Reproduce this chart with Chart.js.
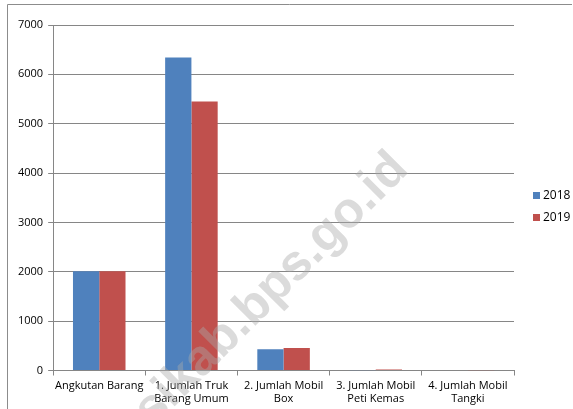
<!DOCTYPE html>
<html>
<head>
<meta charset="utf-8">
<script src="https://cdn.jsdelivr.net/npm/chart.js@4.4.0/dist/chart.umd.min.js"></script>
<style>
  html, body { margin: 0; padding: 0; background: #fff; }
  #wrap { width: 573px; height: 409px; position: relative; }
</style>
</head>
<body>
<div id="wrap"><canvas id="chart"></canvas></div>
<script>
// ---- data ----
var categories = [
    'Angkutan Barang',
    ['1. Jumlah Truk', 'Barang Umum'],
    ['2. Jumlah Mobil', 'Box'],
    ['3. Jumlah Mobil', 'Peti Kemas'],
    ['4. Jumlah Mobil', 'Tangki']
];
var values2018 = [2010, 6340, 430, 5, 0];
var values2019 = [2010, 5450, 455, 18, 4];
var seriesNames = ['2018', '2019'];
var seriesColors = ['#4F81BD', '#C0504D'];
var yTicks = [0, 1000, 2000, 3000, 4000, 5000, 6000, 7000];

var fontFamily = "'Open Sans', 'Liberation Sans', sans-serif";

// frame, legend on the right, watermark
var decorPlugin = {
    id: 'decor',
    beforeDraw: function(chart) {
        let ctx = chart.ctx;
        ctx.save();
        ctx.strokeStyle = '#8c8c8c';
        ctx.lineWidth = 1;
        ctx.beginPath();
        ctx.moveTo(7.5, 409);
        ctx.lineTo(7.5, 4.5);
        ctx.lineTo(572, 4.5);
        ctx.stroke();
        ctx.restore();
    },
    afterDraw: function(chart) {
        let ctx = chart.ctx;
        let area = chart.chartArea;
        ctx.save();
        // legend
        ctx.font = '12px ' + fontFamily;
        ctx.textBaseline = 'middle';
        chart.data.datasets.forEach((ds, i) => {
            let y = 196 + i * 22;
            ctx.fillStyle = ds.backgroundColor;
            ctx.fillRect(area.right + 19, y - 4, 7, 7);
            ctx.fillStyle = '#000';
            ctx.fillText(ds.label, area.right + 29, y);
        });
        // watermark
        ctx.translate(410, 171);
        ctx.rotate(-Math.PI / 4);
        ctx.font = "bold 50px 'Liberation Sans', sans-serif";
        ctx.fillStyle = 'rgba(170,170,170,0.42)';
        ctx.textAlign = 'right';
        ctx.textBaseline = 'alphabetic';
        ctx.fillText('bekasikab.bps.go.id', 0, 0);
        ctx.restore();
    }
};

var ctx = document.getElementById('chart');
var chart = new Chart(ctx, {
    type: 'bar',
    data: {
        labels: categories,
        datasets: [
            {
                label: seriesNames[0],
                data: values2018,
                backgroundColor: seriesColors[0],
                borderWidth: 0
            },
            {
                label: seriesNames[1],
                data: values2019,
                backgroundColor: seriesColors[1],
                borderWidth: 0
            }
        ]
    },
    options: {
        responsive: true,
        maintainAspectRatio: false,
        animation: false,
        layout: { padding: { left: 13, top: 25, right: 59, bottom: 0 } },
        datasets: {
            bar: { categoryPercentage: 0.57, barPercentage: 1.0 }
        },
        plugins: {
            legend: { display: false },
            tooltip: { enabled: false }
        },
        scales: {
            x: {
                grid: {
                    display: true,
                    drawOnChartArea: false,
                    drawTicks: true,
                    tickLength: 5,
                    color: '#868686',
                    offset: true
                },
                border: { color: '#868686' },
                ticks: {
                    color: '#000',
                    maxRotation: 0,
                    autoSkip: false,
                    padding: 3,
                    font: { family: fontFamily, size: 11, lineHeight: 1.25 }
                }
            },
            y: {
                min: 0,
                max: 7000,
                afterBuildTicks: function(axis) {
                    axis.ticks = yTicks.map(v => ({ value: v }));
                },
                grid: {
                    color: '#868686',
                    tickLength: 5
                },
                border: { color: '#868686' },
                ticks: {
                    color: '#000',
                    padding: 5,
                    font: { family: fontFamily, size: 11 },
                    callback: function(value) { return String(value); }
                }
            }
        }
    },
    plugins: [decorPlugin]
});
</script>
</body>
</html>
